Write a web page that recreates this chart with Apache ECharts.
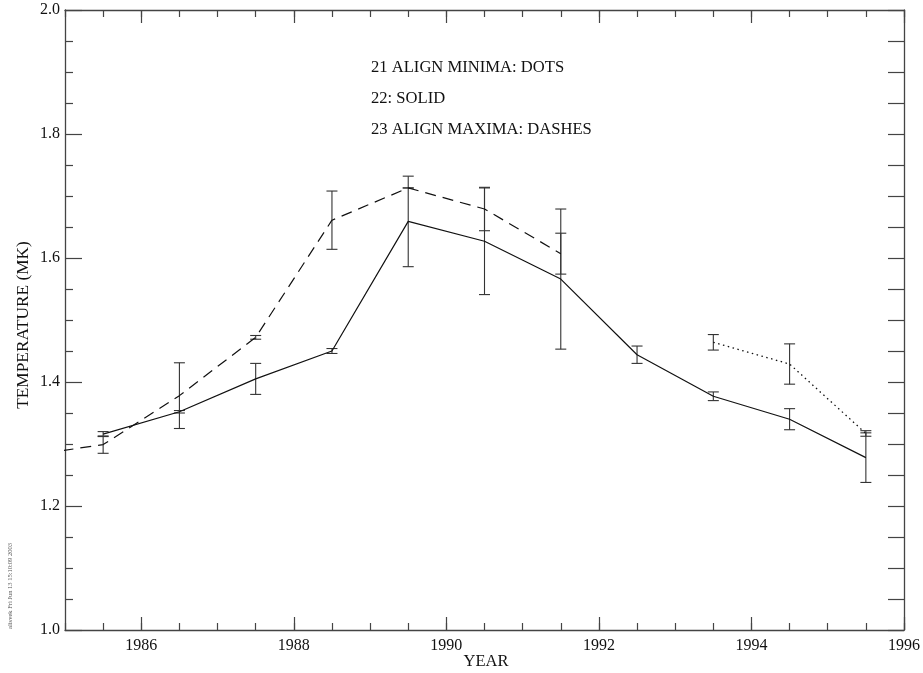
<!DOCTYPE html>
<html>
<head>
<meta charset="utf-8">
<script src="https://cdn.jsdelivr.net/npm/echarts@6/dist/echarts.min.js"></script>
<style>
  html, body { margin: 0; padding: 0; background: #fff; }
  #chart { width: 923px; height: 673px; }
</style>
</head>
<body>
<div id="chart"></div>
<script>
// cycle 22 (solid)
const years22 = [1985.5, 1986.5, 1987.5, 1988.5, 1989.5, 1990.5, 1991.5, 1992.5, 1993.5, 1994.5, 1995.5];
const temp22 = [1.316, 1.352, 1.405, 1.450, 1.659, 1.627, 1.566, 1.444, 1.377, 1.340, 1.278];
const err22 = [0.004, 0.002, 0.025, 0.004, 0.073, 0.086, 0.113, 0.014, 0.007, 0.017, 0.040];

// cycle 23 aligned on maxima (dashes)
const years23 = [1984.5, 1985.5, 1986.5, 1987.5, 1988.5, 1989.5, 1990.5, 1991.5];
const temp23 = [1.281, 1.299, 1.378, 1.472, 1.661, 1.713, 1.679, 1.607];
const err23 = [0, 0.014, 0.053, 0.003, 0.047, 0, 0.035, 0.033];

// cycle 21 aligned on minima (dots)
const years21 = [1993.5, 1994.5, 1995.5];
const temp21 = [1.464, 1.429, 1.317];
const err21 = [0.0125, 0.0325, 0.0045];

const yearLabels = [1986, 1988, 1990, 1992, 1994, 1996];
const notes = ['21 ALIGN MINIMA: DOTS', '22: SOLID', '23 ALIGN MAXIMA: DASHES'];

const FONT = "'Liberation Serif', 'Times New Roman', serif";
const AX = '#444';

const chart = echarts.init(document.getElementById('chart'));

function pairs(xs, ys) {
  return xs.map((x, i) => [x, ys[i]]);
}
function bars(xs, ys, es) {
  return xs.map((x, i) => [x, ys[i] - es[i], ys[i] + es[i]]);
}

function errorBar(params, api) {
  const x = api.value(0);
  const lo = api.coord([x, api.value(1)]);
  const hi = api.coord([x, api.value(2)]);
  const w = 5.5;
  const st = { stroke: '#333', lineWidth: 1.1 };
  return {
    type: 'group',
    children: [
      { type: 'line', shape: { x1: lo[0], y1: lo[1], x2: hi[0], y2: hi[1] }, style: st },
      { type: 'line', shape: { x1: lo[0] - w, y1: lo[1], x2: lo[0] + w, y2: lo[1] }, style: st },
      { type: 'line', shape: { x1: hi[0] - w, y1: hi[1], x2: hi[0] + w, y2: hi[1] }, style: st }
    ]
  };
}

function xAxisDef(pos, minor) {
  return {
    type: 'value', position: pos, min: 1985, max: 1996,
    interval: minor ? 0.5 : 1,
    axisLine: { show: minor, lineStyle: { color: AX, width: 1.3 } },
    axisTick: minor
      ? { inside: true, length: 7, lineStyle: { color: AX, width: 1.2 } }
      : { inside: true, length: 13, customValues: yearLabels, lineStyle: { color: AX, width: 1.2 } },
    axisLabel: {
      show: minor && pos === 'bottom',
      margin: 8,
      color: '#111', fontFamily: FONT, fontSize: 16,
      formatter: v => (yearLabels.indexOf(v) >= 0 ? String(v) : '')
    },
    splitLine: { show: false }
  };
}

const option = {
  backgroundColor: '#fff',
  animation: false,
  grid: { left: 65, right: 17, top: 10, bottom: 43 },
  xAxis: [
    xAxisDef('bottom', true),
    xAxisDef('bottom', false),
    xAxisDef('top', true),
    xAxisDef('top', false)
  ],
  yAxis: [
    {
      type: 'value', position: 'left', min: 1.0, max: 2.0, interval: 0.2,
      axisLine: { show: true, lineStyle: { color: AX, width: 1.3 } },
      axisTick: { inside: true, length: 17, lineStyle: { color: AX, width: 1.2 } },
      minorTick: { show: true, splitNumber: 4, length: 8, lineStyle: { color: AX, width: 1.2 } },
      axisLabel: { margin: 5, color: '#111', fontFamily: FONT, fontSize: 16, formatter: v => v.toFixed(1) },
      splitLine: { show: false }
    },
    {
      type: 'value', position: 'right', min: 1.0, max: 2.0, interval: 0.2,
      axisLine: { show: true, lineStyle: { color: AX, width: 1.3 } },
      axisTick: { inside: true, length: 16, lineStyle: { color: AX, width: 1.2 } },
      minorTick: { show: true, splitNumber: 4, length: 16, lineStyle: { color: AX, width: 1.2 } },
      axisLabel: { show: false },
      splitLine: { show: false }
    }
  ],
  series: [
    {
      name: '22', type: 'line', data: pairs(years22, temp22), showSymbol: false,
      lineStyle: { color: '#111', width: 1.2 }
    },
    {
      name: '23', type: 'line', data: pairs(years23, temp23), showSymbol: false,
      lineStyle: { color: '#111', width: 1.2, type: [11, 7] }
    },
    {
      name: '21', type: 'line', data: pairs(years21, temp21), showSymbol: false,
      lineStyle: { color: '#111', width: 1.3, type: [1.5, 3.5] }
    },
    {
      type: 'custom', renderItem: errorBar, data: bars(years22, temp22, err22),
      encode: { x: 0, y: [1, 2] }, clip: true
    },
    {
      type: 'custom', renderItem: errorBar, data: bars(years23, temp23, err23),
      encode: { x: 0, y: [1, 2] }, clip: true
    },
    {
      type: 'custom', renderItem: errorBar, data: bars(years21, temp21, err21),
      encode: { x: 0, y: [1, 2] }, clip: true
    }
  ],
  graphic: [
    ...notes.map((t, i) => ({
      type: 'text', left: 371, top: 59 + i * 31,
      style: { text: t, fill: '#111', font: '16.6px ' + FONT }
    })),
    {
      type: 'text', x: 486, y: 662,
      style: { text: 'YEAR', fill: '#111', font: '16.5px ' + FONT, align: 'center', verticalAlign: 'middle' }
    },
    {
      type: 'text', x: 23, y: 325, rotation: Math.PI / 2,
      style: { text: 'TEMPERATURE (MK)', fill: '#111', font: '17.3px ' + FONT, align: 'center', verticalAlign: 'middle' }
    },
    {
      type: 'text', x: 10, y: 586, rotation: Math.PI / 2,
      style: { text: 'alisvek Fri Jun 13 15:10:09 2003', fill: '#555', font: '6.5px ' + FONT, align: 'center', verticalAlign: 'middle' }
    }
  ]
};

chart.setOption(option);
</script>
</body>
</html>
